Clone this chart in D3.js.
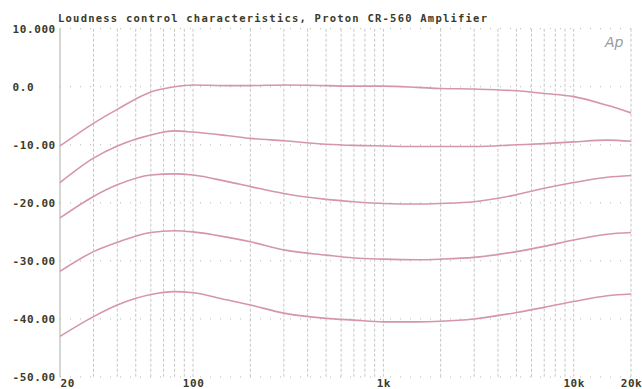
<!DOCTYPE html>
<html>
<head>
<meta charset="utf-8">
<script src="https://cdn.jsdelivr.net/npm/d3@7"></script>
<style>
  html, body { margin: 0; padding: 0; background: #fff; }
  svg { display: block; }
</style>
</head>
<body>
<svg id="chart" width="642" height="389"></svg>
<script>
const titleText = "Loudness control characteristics, Proton CR-560 Amplifier";
const freqs = [20, 30, 40, 60, 80, 100, 150, 200, 300, 500, 700, 1000, 1500, 2000, 3000, 5000, 7000, 10000, 15000, 20000];
const curve1 = [-10.2, -6.3, -3.9, -0.9, 0.0, 0.3, 0.2, 0.2, 0.3, 0.2, 0.1, 0.1, -0.1, -0.3, -0.4, -0.7, -1.15, -1.7, -3.2, -4.5];
const curve2 = [-16.5, -12.3, -10.2, -8.3, -7.6, -7.8, -8.4, -8.9, -9.3, -9.9, -10.1, -10.2, -10.3, -10.3, -10.3, -10.0, -9.8, -9.5, -9.2, -9.4];
const curve3 = [-22.6, -18.9, -16.9, -15.2, -15.0, -15.2, -16.3, -17.2, -18.4, -19.4, -19.8, -20.1, -20.2, -20.1, -19.8, -18.6, -17.5, -16.5, -15.6, -15.3];
const curve4 = [-31.8, -28.4, -26.8, -25.1, -24.8, -25.0, -25.9, -26.7, -28.1, -29.0, -29.5, -29.7, -29.8, -29.7, -29.4, -28.4, -27.5, -26.4, -25.4, -25.1];
const curve5 = [-43.0, -39.6, -37.6, -35.8, -35.3, -35.5, -36.7, -37.6, -39.0, -39.9, -40.2, -40.5, -40.5, -40.4, -40.0, -38.9, -38.0, -37.0, -36.0, -35.7];
const yTickValues = [10, 0, -10, -20, -30, -40, -50];
const yTickLabels = ["10.000", "0.0", "-10.00", "-20.00", "-30.00", "-40.00", "-50.00"];
const xTickValues = [20, 100, 1000, 10000, 20000];
const xTickLabels = ["20", "100", "1k", "10k", "20k"];
const gridFreqs = [20,30,40,50,60,70,80,90,100,200,300,400,500,600,700,800,900,1000,2000,3000,4000,5000,6000,7000,8000,9000,10000,20000];

const svg = d3.select("#chart");
const x = d3.scaleLog().domain([20, 20000]).range([60, 631]);
const y = d3.scaleLinear().domain([-50, 10]).range([377, 28.7]);
const textColor = "#3b3b2a";
const mono = "'DejaVu Sans Mono', 'Liberation Mono', monospace";

// vertical grid
svg.append("g").selectAll("line").data(gridFreqs).join("line")
  .attr("x1", d => x(d)).attr("x2", d => x(d))
  .attr("y1", y(10)).attr("y2", y(-50))
  .attr("stroke", d => d === 20 ? "#a9ae9f" : "#c4c8c0")
  .attr("stroke-width", 1)
  .attr("stroke-dasharray", d => d === 20 ? null : "3,2");

// horizontal grid (sparse dots)
svg.append("g").selectAll("line").data(yTickValues).join("line")
  .attr("x1", x(20)).attr("x2", x(20000))
  .attr("y1", d => y(d)).attr("y2", d => y(d))
  .attr("stroke", "#b4b8b0")
  .attr("stroke-width", 1)
  .attr("stroke-dasharray", "1,9");

// curves
const series = [curve1, curve2, curve3, curve4, curve5];
const line = d3.line().x(d => x(d[0])).y(d => y(d[1])).curve(d3.curveMonotoneX);
svg.append("g").selectAll("path").data(series).join("path")
  .attr("d", s => line(freqs.map((f, i) => [f, s[i]])))
  .attr("fill", "none")
  .attr("stroke", "#d595ad")
  .attr("stroke-width", 1.6);

// y axis
const yAxis = d3.axisLeft(y).tickValues(yTickValues)
  .tickFormat((d, i) => yTickLabels[i]).tickSize(0);
const gy = svg.append("g").attr("transform", "translate(60,0)").call(yAxis);
gy.select(".domain").remove();
gy.selectAll("text")
  .attr("x", -47.5).attr("text-anchor", "start").attr("dy", "0.35em")
  .attr("fill", textColor).attr("font-family", mono)
  .attr("font-weight", "bold").attr("font-size", 11).attr("letter-spacing", 0.6);

// x axis
const xAxis = d3.axisBottom(x).tickValues(xTickValues)
  .tickFormat((d, i) => xTickLabels[i]).tickSize(0);
const gx = svg.append("g").attr("transform", "translate(0,377)").call(xAxis);
gx.select(".domain").remove();
gx.selectAll("text")
  .attr("y", 0).attr("dy", "9.5")
  .attr("text-anchor", d => d === 20 ? "start" : "middle")
  .attr("fill", textColor).attr("font-family", mono)
  .attr("font-weight", "bold").attr("font-size", 11).attr("letter-spacing", 0.6);

// title
svg.append("text").attr("x", 58).attr("y", 22)
  .attr("fill", textColor).attr("font-family", mono)
  .attr("font-weight", "bold").attr("font-size", 10.5)
  .attr("textLength", 429).attr("lengthAdjust", "spacing")
  .text(titleText);

// logo
svg.append("text").attr("x", 605).attr("y", 47)
  .attr("fill", "#9a9a9a").attr("font-family", "'DejaVu Sans', sans-serif")
  .attr("font-style", "italic").attr("font-size", 14)
  .text("Ap");
</script>
</body>
</html>
